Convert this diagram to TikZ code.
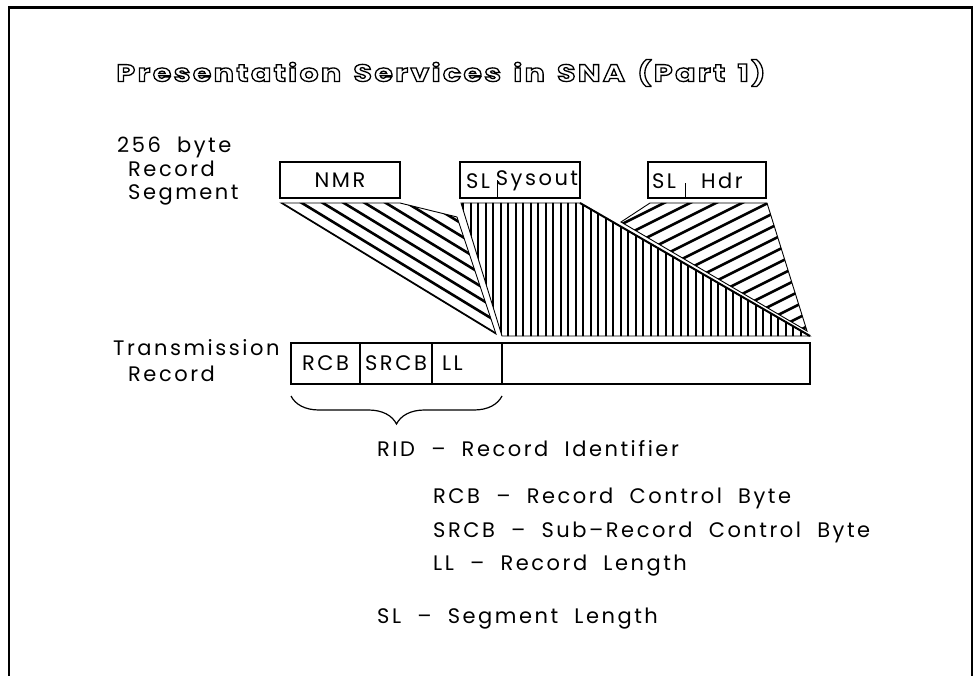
\documentclass[tikz,border=0pt]{standalone}
\usepackage{fontspec}
\usetikzlibrary{decorations.pathreplacing}

\setmainfont{Poppins}[LetterSpace=12, WordSpace=2]
\newfontfamily\headfont{Poppins}[LetterSpace=10, WordSpace=1.4, FakeStretch=1.25]
% hollow letters for the heading
\newcommand{\hollow}[1]{\special{pdf:code q 1 Tr 1.3 w}#1\special{pdf:code Q}}

\tikzset{
  frame/.style={line width=2.5pt},
  segbox/.style={draw, line width=1.4pt, minimum height=36pt, inner sep=0pt, font=\fontsize{21}{21}\selectfont},
  cell/.style={draw, line width=1.4pt, minimum height=41pt, inner sep=0pt, outer sep=0pt, anchor=west, font=\fontsize{21}{21}\selectfont},
  txt/.style={inner sep=0pt, font=\fontsize{21}{21}\selectfont},
  lbl/.style={inner sep=0pt, anchor=base west, font=\fontsize{21}{21}\selectfont},
  rim/.style={line width=0.9pt},
  slant/.style={line width=2.6pt},
  vert/.style={line width=2pt},
}

\begin{document}
\begin{tikzpicture}[x=1pt, y=-1pt]
\useasboundingbox (0,0) rectangle (974,676);
\draw[frame] (9,677) -- (9,7.5) -- (972,7.5) -- (972,677);

% title
\node[inner sep=0pt, font=\headfont\bfseries\fontsize{24}{24}\selectfont] (title) at (441,73)
  {\hollow{Presentation Services in SNA (Part 1)}};

% left side labels
\node[lbl] (bytes) at (117,153) {256 byte};
\node[lbl] (recseg) at (128,177) {Record};
\node[lbl] (segm) at (128,200) {Segment};
\node[lbl] (trans) at (113,355) {Transmission};
\node[lbl] (trrec) at (128,381) {Record};

% record segments
\node[segbox, minimum width=120pt] (nmr) at (340,180) {NMR};
\node[segbox, minimum width=120pt] (sysout) at (520,180) {};
\node[txt] (sysl) at (478,181) {SL};
\node[txt] (sysname) at (537,181) {Sysout};
\draw[rim] (497,198) -- (497,180);
\node[segbox, minimum width=118pt] (hdr) at (707,180) {};
\node[txt] (hdrsl) at (664,181) {SL};
\node[txt] (hdrname) at (722,181) {Hdr};
\draw[rim] (685,198) -- (685,183);

% NMR slice
\begin{scope}
  \clip (281,203) -- (400,203) -- (457,217) -- (496,334) -- cycle;
  \foreach \x in {281,302,...,460} \draw[slant] (\x-60,203-36.5) -- ++(400,243.6);
\end{scope}
\draw[rim] (281,203) -- (400,203) -- (457,217) -- (496,334) -- cycle;

% Sysout slice
\begin{scope}
  \clip (461,203) -- (580,203) -- (810,336) -- (502,336) -- cycle;
  \foreach \x in {463,470.5,...,812} \draw[vert] (\x,200) -- (\x,340);
\end{scope}
\draw[rim] (461,203) -- (580,203) -- (810,336) -- (502,336) -- cycle;
\draw[line width=2pt] (580,203) -- (810,336);

% Hdr slice
\begin{scope}
  \clip (650,203) -- (767,203) -- (807,331) -- (621,222) -- cycle;
  \foreach \y in {170,183,...,460} \draw[slant] (600,\y) -- ++(240,-120);
\end{scope}
\draw[rim] (650,203) -- (767,203) -- (807,331) -- (621,222) -- cycle;

% transmission record
\node[cell, minimum width=69pt] (rcb) at (291,363.5) {RCB};
\node[cell, minimum width=72pt] (srcb) at (rcb.east) {SRCB};
\node[cell, minimum width=70pt] (ll) at (srcb.east) {\makebox[50pt][l]{LL}};
\node[cell, minimum width=308pt] (data) at (ll.east) {};

\draw[line width=1.2pt, decorate, decoration={brace, amplitude=28pt}]
  (ll.south east |- 0,396) -- (rcb.south west |- 0,396);

% legend
\node[lbl] (rid) at (377,456) {RID – Record Identifier};
\node[lbl] (rcbtxt) at (433,503) {RCB – Record Control Byte};
\node[lbl] (srcbtxt) at (433,537) {SRCB – Sub–Record Control Byte};
\node[lbl] (lltxt) at (433,570) {LL – Record Length};
\node[lbl] (sltxt) at (377,623) {SL – Segment Length};
\end{tikzpicture}
\end{document}
